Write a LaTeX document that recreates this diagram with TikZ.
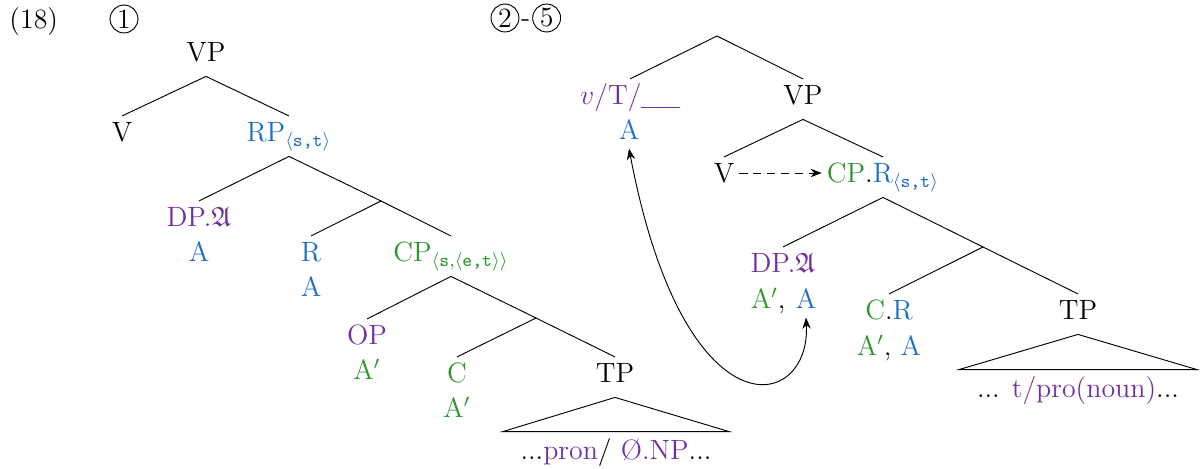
\documentclass[tikz,border=0pt,12pt]{standalone}
\usepackage{amsmath}
\usepackage{amssymb}
\usepackage{tikz}
\usepackage{xcolor}
\usetikzlibrary{arrows.meta, positioning}
\definecolor{Syn_Purple}{HTML}{7030A0}
\definecolor{Syn_Blue}{HTML}{1E6EC8}
\definecolor{Syn_Green}{HTML}{2D962D}
\tikzset{
  lbl/.style={anchor=base, inner xsep=2pt, inner ysep=2.5pt, text height=8.5pt, text depth=3.5pt},
  feat/.style={anchor=base, inner xsep=2pt, inner ysep=2.5pt, text height=8.5pt, text depth=1pt},
  yield/.style={anchor=base, inner xsep=0pt, inner ysep=3.5pt, text height=8.5pt, text depth=3pt},
  circnum/.style={circle, draw, inner sep=0pt, minimum size=12pt}
}

\begin{document}
\begin{tikzpicture}[x=0.43pt, y=-0.43pt]
    \useasboundingbox (0,0) rectangle (1204,469);
    % example number and steps
    \node[anchor=base west, inner sep=0pt] (exnum) at (9,29) {(18)};
    \node[circnum] (num1) at (124,19) {1};
    \node[circnum] (num2) at (505,18) {2};
    \node[right=0.5pt of num2, inner sep=0pt, yshift=-2.3pt] (numdash) {-};
    \node[circnum, right=0.5pt of num2, xshift=5pt] (num5) {5};
    % tree 1
    \node[lbl] (vp1) at (206,62) {VP};
    \node[lbl] (v1) at (122,142) {V};
    \node[lbl, text=Syn_Blue] (rp1) at (289,142) {RP$_{\langle\texttt{s,t}\rangle}$};
    \coordinate (rbar1) at (381,201);
    \node[lbl, text=Syn_Purple] (dp1) at (199,227) {DP.$\mathfrak{A}$};
    \node[feat, text=Syn_Blue] (dp1f) at (199,262) {A};
    \node[lbl, text=Syn_Blue] (r1) at (311,262) {R};
    \node[feat, text=Syn_Blue] (r1f) at (311,297) {A};
    \node[lbl, text=Syn_Green] (cp1) at (451,262) {CP$_{\langle\texttt{s},\langle\texttt{e,t}\rangle\rangle}$};
    \coordinate (cbar1) at (536,318);
    \node[lbl, text=Syn_Purple] (op1) at (367,345) {OP};
    \node[feat, text=Syn_Green] (op1f) at (367,380) {A$'$};
    \node[lbl, text=Syn_Green] (c1) at (457,383) {C};
    \node[feat, text=Syn_Green] (c1f) at (457,418) {A$'$};
    \node[lbl] (tp1) at (615,383) {TP};
    \node[yield, minimum width=97pt] (tp1y) at (616,460) {...\textcolor{Syn_Purple}{pron}/ \textcolor{Syn_Purple}{Ø.NP}...};
    % branches
    \draw (vp1.south) -- (v1.north);
    \draw (vp1.south) -- (rp1.north);
    \draw (rp1.south) -- (dp1.north);
    \draw (rp1.south) -- (rbar1) -- (cp1.north);
    \draw (rbar1) -- (r1.north);
    \draw (cp1.south) -- (op1.north);
    \draw (cp1.south) -- (cbar1) -- (tp1.north);
    \draw (cbar1) -- (c1.north);
    \draw (tp1.south) -- (tp1y.north west) -- (tp1y.north east) -- cycle;
    % tree 2
    \coordinate (root2) at (717,36);
    \node[lbl, text=Syn_Purple] (vt2) at (630,105) {$v$/T/\rule[-1.2pt]{16.5pt}{0.5pt}};
    \node[feat, text=Syn_Blue] (vt2f) at (629,140) {A};
    \node[lbl] (vp2) at (803,105) {VP};
    \node[lbl] (v2) at (724,183) {V};
    \node[lbl] (cpr2) at (883,183) {\textcolor{Syn_Green}{CP}.\textcolor{Syn_Blue}{R$_{\langle\texttt{s,t}\rangle}$}};
    \node[lbl, text=Syn_Purple] (dp2) at (783,273) {DP.$\mathfrak{A}$};
    \node[feat, text=Syn_Blue] (dp2fb) at (806,309) {A};
    \node[feat, text=Syn_Green, anchor=base east] (dp2fa) at (dp2fb.base west) {A$'$\textcolor{black}{,}};
    \coordinate (cbar2) at (983,247);
    \node[lbl] (cr2) at (889,320) {\textcolor{Syn_Green}{C}.\textcolor{Syn_Blue}{R}};
    \node[feat] (cr2f) at (889,356) {\textcolor{Syn_Green}{A$'$}, \textcolor{Syn_Blue}{A}};
    \node[lbl] (tp2) at (1078,320) {TP};
    \node[yield, minimum width=102pt] (tp2y) at (1078,398) {... \textcolor{Syn_Purple}{t/pro(noun)}...};
    % branches
    \draw (root2) -- (vt2.north);
    \draw (root2) -- (vp2.north);
    \draw (vp2.south) -- (v2.north);
    \draw (vp2.south) -- (cpr2.north);
    \draw (cpr2.south) -- (dp2.north);
    \draw (cpr2.south) -- (cbar2) -- (tp2.north);
    \draw (cbar2) -- (cr2.north);
    \draw (tp2.south) -- (tp2y.north west) -- (tp2y.north east) -- cycle;
    % selection and movement
    \draw[-{Stealth}, dash pattern=on 3.5pt off 2.5pt] ([yshift=1.8pt]v2.east) -- ([yshift=1.8pt]cpr2.west);
    \draw[{Stealth}-{Stealth}] (vt2f.south) .. controls +(55,290) and +(5,95) .. (dp2fb.south);
\end{tikzpicture}
\end{document}
